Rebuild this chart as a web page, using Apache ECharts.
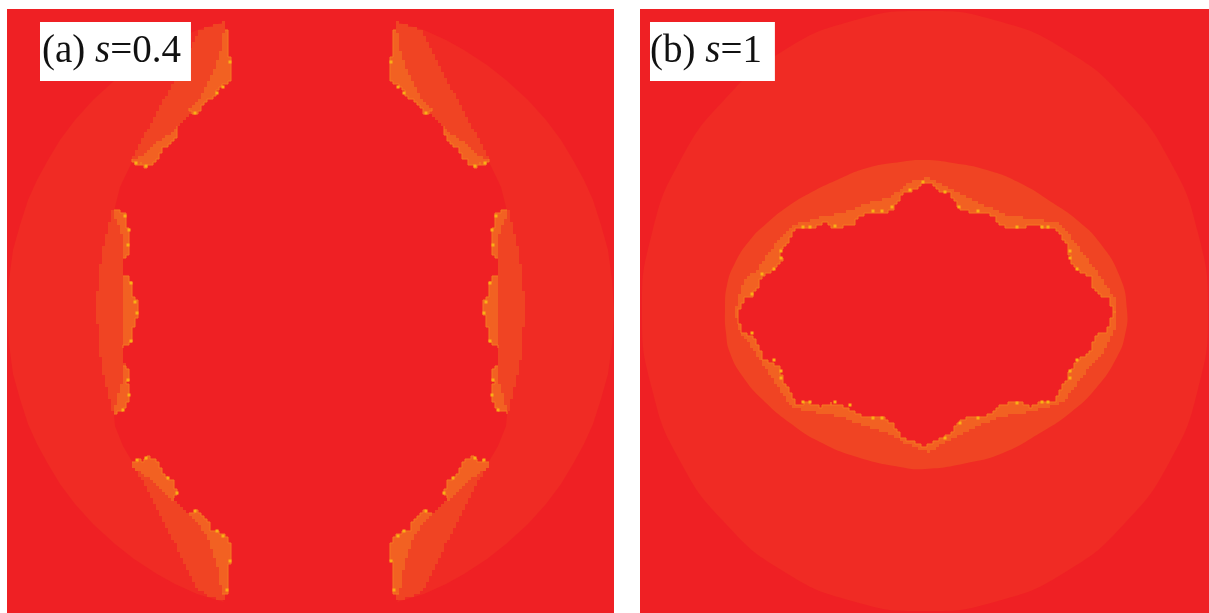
<!DOCTYPE html>
<html><head><meta charset="utf-8">
<script src="https://cdn.jsdelivr.net/npm/echarts@6/dist/echarts.min.js"></script>
<style>html,body{margin:0;padding:0;background:#fff}#c{width:1209px;height:613px}</style>
</head><body><div id="c"></div>
<script>
const panelLabels = ['(a) {i|s}{n|=0.4}', '(b) {i|s}{n|=1}'];
// level values of the map, low to high
const levelColors = ['#EF2024', '#F02B24', '#F04423', '#F26122'];
const rimColor = '#F47A20', dotColor = '#F9B016';

// Panel (a): contour outlines, [x, y] in map units
const a_L1_left = [[224,22],[197,30],[175,40],[157,50],[134,65],[115,80],[93,100],[75,120],[60,140],[48,160],[37,180],[28,200],[20,225],[13,250],[9,280],[7,312],[9,344],[13,374],[20,399],[28,424],[37,444],[48,464],[60,484],[75,504],[93,524],[115,544],[134,559],[157,574],[175,584],[197,594],[224,602],[133,463],[123,446],[115,426],[111,380],[110,310],[111,240],[115,207],[120,187],[133,160]];
const a_L1_right = [[397,22],[424,30],[446,40],[464,50],[487,65],[506,80],[528,100],[546,120],[561,140],[573,160],[584,180],[593,200],[601,225],[608,250],[612,280],[614,312],[612,344],[608,374],[601,399],[593,424],[584,444],[573,464],[561,484],[546,504],[528,524],[506,544],[487,559],[464,574],[446,584],[424,594],[397,602],[488,463],[498,446],[506,426],[510,380],[511,310],[510,240],[506,207],[501,187],[488,160]];
const a_L2_left = [
 [[224,22],[200,30],[133,160],[135,162],[160,150],[177,127],[191,110],[215,85],[221,60],[226,30]],
 [[113,210],[105,240],[98,277],[97,310],[98,346],[103,376],[113,414],[123,405],[125,366],[122,349],[125,310],[122,275],[125,215]],
 [[133,466],[157,510],[177,550],[197,590],[208,596],[224,602],[226,592],[221,563],[215,540],[191,515],[175,498],[160,475],[135,463]]];
const a_L2_right = [
 [[397,22],[421,30],[488,160],[486,162],[461,150],[444,127],[430,110],[406,85],[400,60],[395,30]],
 [[508,210],[516,240],[523,277],[524,310],[523,346],[518,376],[508,414],[498,405],[496,366],[499,349],[496,310],[499,275],[496,215]],
 [[488,466],[464,510],[444,550],[424,590],[413,596],[397,602],[395,592],[400,563],[406,540],[430,515],[446,498],[461,475],[486,463]]];
// Level-3 blobs: outer edge (against the background) and inner edge
const a_L3_edges = [
 [[224,30],[228,32],[229,43],[228,58],[232,62],[231,80],[223,88],[217,93],[210,100],[202,108],[197,114],[191,112],[190,108]],
 [[177,127],[178,132],[173,142],[165,148],[160,155],[157,160],[147,167],[142,163],[138,164],[133,160]],
 [[113,210],[125,215],[127,227],[130,230],[128,240],[130,247],[127,258],[122,259]],
 [[122,275],[128,278],[132,283],[133,298],[137,302],[138,313],[135,325],[132,333],[132,341],[123,349]],
 [[122,366],[128,370],[130,381],[127,383],[130,393],[128,403],[123,410],[113,414]],
 [[133,462],[137,460],[142,461],[147,457],[153,460],[160,467],[165,478],[172,480],[175,488],[178,493],[175,498]],
 [[190,513],[195,510],[200,515],[208,521],[210,530],[217,530],[223,535],[231,546],[231,558],[228,568],[228,583],[227,593],[222,593]],
 [[397,30],[393,32],[392,43],[393,58],[389,62],[390,80],[398,88],[404,93],[411,100],[419,108],[424,114],[430,112],[431,108]],
 [[444,127],[443,132],[448,142],[456,148],[461,155],[464,160],[474,167],[479,163],[483,164],[488,160]],
 [[508,210],[496,215],[494,227],[491,230],[493,240],[491,247],[494,258],[499,259]],
 [[499,275],[493,278],[489,283],[488,298],[484,302],[483,313],[486,325],[489,333],[489,341],[498,349]],
 [[499,366],[493,370],[491,381],[494,383],[491,393],[493,403],[498,410],[508,414]],
 [[488,462],[484,460],[479,461],[474,457],[468,460],[461,467],[456,478],[449,480],[446,488],[443,493],[446,498]],
 [[431,513],[426,510],[421,515],[413,521],[411,530],[404,530],[398,535],[390,546],[390,558],[393,568],[393,583],[394,593],[399,593]]];
const a_L3_inner = [
 [[200,97],[213,73],[220,50]],
 [[140,155],[160,140]],
 [[123,247],[122,233]],
 [[122,346],[124,316],[124,310],[123,283]],
 [[117,400],[122,380]],
 [[173,500],[153,480],[133,466]],
 [[217,563],[207,533]],
 [[421,97],[408,73],[401,50]],
 [[481,155],[461,140]],
 [[498,247],[499,233]],
 [[499,346],[497,316],[497,310],[498,283]],
 [[504,400],[499,380]],
 [[448,500],[468,480],[488,466]],
 [[404,563],[414,533]]];
const a_dots = [[230,62],[223,87],[217,93],[195,113],[136,163],[146,166],[125,216],[129,230],[128,245],[131,283],[135,302],[137,313],[131,341],[123,410],[129,395],[128,380],[137,460],[146,458],[168,478],[177,493],[195,511],[217,531],[223,536],[230,561],[227,590],
 [391,62],[398,87],[404,93],[426,113],[485,163],[475,166],[496,216],[492,230],[493,245],[490,283],[486,302],[484,313],[490,341],[498,410],[492,395],[493,380],[484,460],[475,458],[453,478],[444,493],[426,511],[404,531],[398,536],[391,561],[394,590]];

// Panel (b)
const b_L1 = [[925,11],[998,21],[1067,51],[1125,99],[1170,161],[1198,233],[1208,311],[1198,389],[1170,461],[1125,523],[1067,571],[998,601],[925,611],[852,601],[783,571],[725,523],[680,461],[652,389],[642,311],[652,233],[680,161],[725,99],[783,51],[852,21]];
const b_L2 = [[725,310],[727,285],[735,263],[750,240],[767,223],[787,207],[810,193],[837,180],[867,168],[900,162],[925,160],[953,163],[987,170],[1020,183],[1053,203],[1077,220],[1100,243],[1120,277],[1127,310],[1125,335],[1117,357],[1097,387],[1070,413],[1040,433],[1003,453],[967,463],[925,469],[900,467],[857,457],[820,442],[790,423],[763,400],[743,377],[730,353],[726,333]];
const b_L3 = [[735,310],[743,283],[760,263],[777,240],[792,225],[817,218],[840,213],[867,203],[887,197],[913,180],[927,178],[937,182],[957,193],[987,207],[1010,217],[1033,218],[1057,223],[1077,247],[1097,273],[1117,303],[1117,327],[1107,347],[1087,373],[1067,400],[1055,405],[1027,413],[1000,417],[987,423],[953,438],[930,452],[907,443],[893,435],[863,425],[843,417],[817,412],[793,407],[777,383],[757,353],[740,330]];
const b_inner = [[737,313],[738,310],[742,307],[743,298],[750,297],[755,290],[760,283],[761,275],[772,271],[777,265],[782,258],[780,250],[783,245],[788,240],[792,232],[795,227],[802,228],[812,228],[822,223],[831,224],[831,228],[842,228],[843,224],[853,224],[855,220],[863,212],[867,212],[885,212],[893,208],[897,200],[902,193],[913,190],[918,185],[927,182],[937,190],[948,193],[953,202],[958,208],[968,212],[987,212],[995,220],[1002,226],[1010,228],[1022,228],[1030,224],[1040,225],[1042,228],[1055,227],[1058,235],[1068,247],[1070,260],[1077,271],[1090,276],[1093,287],[1100,297],[1108,297],[1112,308],[1115,313],[1110,322],[1107,333],[1098,333],[1092,343],[1090,353],[1077,360],[1070,373],[1068,382],[1062,388],[1055,403],[1040,403],[1032,407],[1022,403],[1010,403],[998,407],[988,418],[968,418],[958,423],[952,435],[940,440],[928,447],[923,447],[917,443],[903,438],[895,425],[885,418],[867,418],[855,412],[843,405],[832,403],[822,407],[810,403],[797,405],[790,390],[782,378],[780,367],[763,357],[760,347],[753,335],[743,333],[738,320]];
const b_dots = [[803,227],[810,227],[835,226],[873,211],[882,211],[781,258],[781,251],[774,269],[752,294],[762,274],[892,207],[910,190],[923,182],[945,192],[959,207],[978,211],[1017,227],[1042,227],[1048,227],[1070,251],[1070,258],[1077,269],[803,402],[810,402],[835,402],[873,418],[882,418],[781,371],[781,378],[774,360],[850,405],[752,333],[945,438],[960,423],[978,418],[1017,403],[1042,402],[1048,402],[1070,371],[1070,378],[1077,360]];

const CELL = 3; // the map's raster cell
function stair(pts, closed){
  const out = [], n = pts.length, q = v => Math.round(v/CELL)*CELL;
  let last = null;
  for (let i = 0; i < (closed ? n : n-1); i++){
    const a = pts[i], b = pts[(i+1)%n];
    const m = Math.max(1, Math.ceil(Math.max(Math.abs(b[0]-a[0]), Math.abs(b[1]-a[1]))/CELL));
    for (let k = 0; k <= m; k++){
      const x = q(a[0]+(b[0]-a[0])*k/m), y = q(a[1]+(b[1]-a[1])*k/m);
      if (last && last[0]===x && last[1]===y) continue;
      if (last && last[0]!==x && last[1]!==y) out.push([x,last[1]]);
      out.push([x,y]); last=[x,y];
    }
  }
  return out;
}
const poly = (pts, level, o) => Object.assign({t:'poly', pts, fill:levelColors[level]}, o);
const aShapes = [
  poly(a_L1_left,1), poly(a_L1_right,1),
  ...a_L2_left.map(p=>poly(stair(p,true),2)), ...a_L2_right.map(p=>poly(stair(p,true),2)),
  ...a_L3_edges.map((e,i)=>poly(stair(e.concat(a_L3_inner[i]),true),3)),
  ...a_L3_edges.map(e=>({t:'line', pts:stair(e,false)})),
  ...a_dots.map(d=>({t:'dot', pts:d}))
];
const bShapes = [
  poly(b_L1,1,{smooth:0.5}), poly(b_L2,2,{smooth:0.5}), poly(stair(b_L3,true),3),
  poly(stair(b_inner,true),0,{stroke:rimColor}),
  ...b_dots.map(d=>({t:'dot', pts:d}))
];
function makeRender(shapes){
  return function(params, api){
    const s = shapes[params.dataIndex];
    if (s.t === 'dot') {
      const c = api.coord(s.pts), z = api.size([3,3]);
      return {type:'rect', shape:{x:c[0]-z[0]/2, y:c[1]-z[1]/2, width:z[0], height:z[1]}, style:{fill:dotColor}};
    }
    const pts = s.pts.map(p=>api.coord(p));
    if (s.t === 'line') return {type:'polyline', shape:{points:pts}, style:{fill:'none', stroke:rimColor, lineWidth:1}};
    return {type:'polygon', shape:{points:pts, smooth:s.smooth||0}, style:{fill:s.fill, stroke:s.stroke||null, lineWidth:s.stroke?1:0}};
  };
}
function panel(i, shapes){
  return {type:'custom', xAxisIndex:i, yAxisIndex:i, clip:true, silent:true, animation:false,
    renderItem:makeRender(shapes), data:shapes.map((s,k)=>[k,0])};
}
function label(text,left,pad){
  const f='"Liberation Serif","Times New Roman",serif';
  return {text, left, top:22, padding:pad, backgroundColor:'#fff',
    textStyle:{fontFamily:f,fontSize:39,fontWeight:'normal',color:'#111',lineHeight:51,
      rich:{i:{fontFamily:f,fontSize:39,fontStyle:'italic',color:'#111'},n:{fontFamily:f,fontSize:39,color:'#111'}}}};
}
const chart = echarts.init(document.getElementById('c'), null, {renderer:'canvas'});
chart.setOption({
  backgroundColor:'#fff', animation:false,
  title:[label(panelLabels[0],40,[4,10,4,2]), label(panelLabels[1],650,[4,13,4,0])],
  grid:[
    {left:7,top:9,width:607,height:604,show:true,backgroundColor:levelColors[0],borderWidth:0},
    {left:640,top:9,width:569,height:604,show:true,backgroundColor:levelColors[0],borderWidth:0}],
  xAxis:[{type:'value',gridIndex:0,min:7,max:614,show:false},{type:'value',gridIndex:1,min:640,max:1209,show:false}],
  yAxis:[{type:'value',gridIndex:0,min:9,max:613,inverse:true,show:false},{type:'value',gridIndex:1,min:9,max:613,inverse:true,show:false}],
  series:[panel(0,aShapes),panel(1,bShapes)]
});
</script></body></html>
